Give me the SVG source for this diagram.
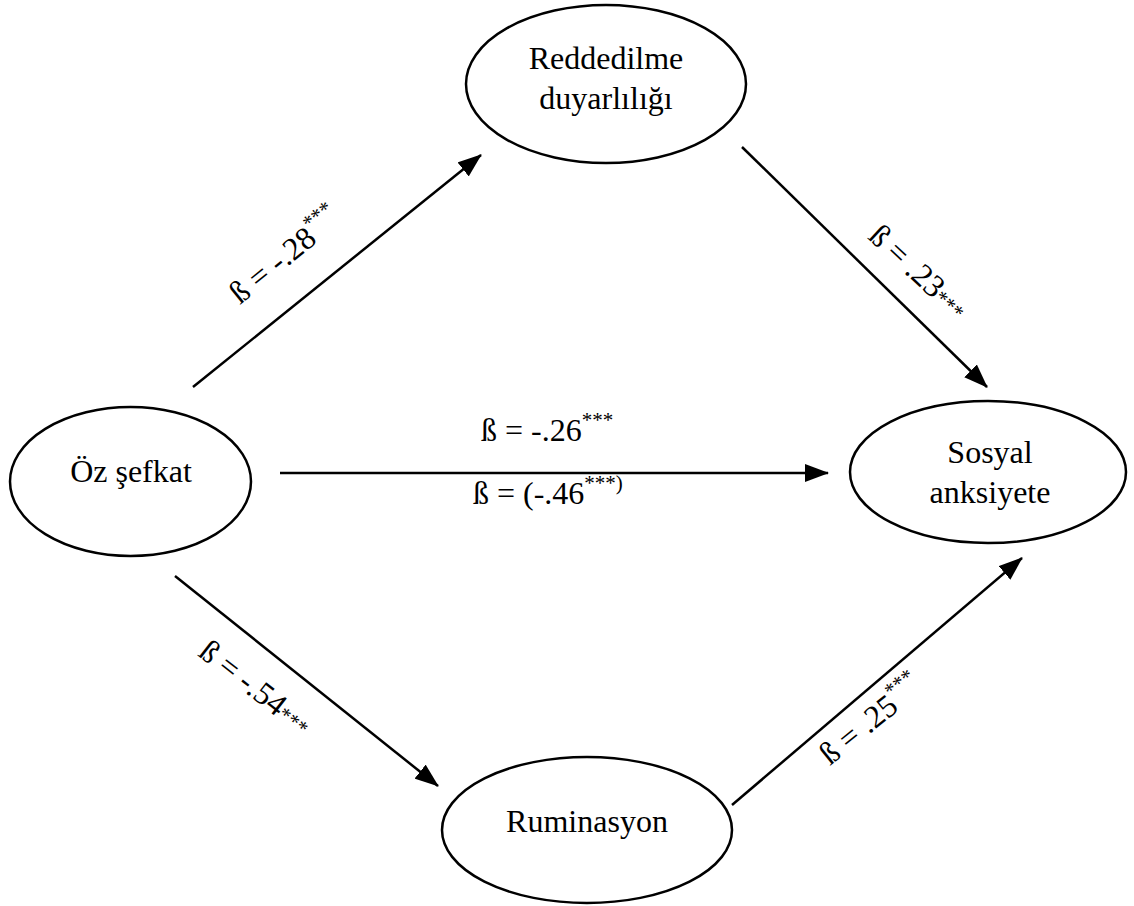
<svg xmlns="http://www.w3.org/2000/svg" width="1134" height="906" viewBox="0 0 1134 906">
  <style>
    .node { fill: #ffffff; stroke: #000000; stroke-width: 2.5; }
    .lbl { font-family: "Liberation Serif", "Times New Roman", serif; font-size: 32px; fill: #000000; }
    .edge { stroke: #000000; stroke-width: 2.5; fill: none; marker-end: url(#arrow); }
    .sup { font-size: 21px; }
  </style>
  <defs>
    <marker id="arrow" markerUnits="userSpaceOnUse" markerWidth="24" markerHeight="18" refX="23" refY="9" orient="auto">
      <path d="M0,0 L24,9 L0,18 z" fill="#000000"/>
    </marker>
  </defs>
  <rect width="1134" height="906" fill="#ffffff"/>

  <!-- nodes -->
  <g id="node-reddedilme">
    <ellipse class="node" cx="606" cy="84" rx="140" ry="79"/>
    <text class="lbl" x="606" y="69" text-anchor="middle">Reddedilme</text>
    <text class="lbl" x="606" y="109" text-anchor="middle">duyarlılığı</text>
  </g>
  <g id="node-oz-sefkat">
    <ellipse class="node" cx="130.5" cy="481.5" rx="120.5" ry="74.5"/>
    <text class="lbl" x="131" y="482" text-anchor="middle">Öz şefkat</text>
  </g>
  <g id="node-sosyal">
    <ellipse class="node" cx="988" cy="472" rx="138" ry="71"/>
    <text class="lbl" x="990" y="463" text-anchor="middle">Sosyal</text>
    <text class="lbl" x="990" y="503" text-anchor="middle">anksiyete</text>
  </g>
  <g id="node-ruminasyon">
    <ellipse class="node" cx="587" cy="830" rx="145" ry="73"/>
    <text class="lbl" x="587" y="832" text-anchor="middle">Ruminasyon</text>
  </g>

  <!-- connectors -->
  <g id="connectors">
    <line class="edge" x1="193" y1="387" x2="481" y2="155"/>
    <line class="edge" x1="742" y1="147" x2="987" y2="387"/>
    <line class="edge" x1="280" y1="473" x2="828" y2="473"/>
    <line class="edge" x1="175" y1="576" x2="438" y2="786"/>
    <line class="edge" x1="732" y1="805" x2="1022" y2="558"/>
  </g>

  <!-- path coefficients -->
  <g id="coefficients">
    <text class="lbl" x="240" y="305" transform="rotate(-39 240 305)">ß = -.28<tspan class="sup" dy="-14">***</tspan></text>
    <text class="lbl" x="867" y="238" transform="rotate(43 867 238)">ß = .23<tspan class="sup">***</tspan></text>
    <text class="lbl" x="481" y="441">ß = -.26<tspan class="sup" dy="-14">***</tspan></text>
    <text class="lbl" x="473" y="504">ß = (-.46<tspan class="sup" dy="-14">***)</tspan></text>
    <text class="lbl" x="197" y="655" transform="rotate(38 197 655)">ß = -.54<tspan class="sup">***</tspan></text>
    <text class="lbl" x="830" y="766" transform="rotate(-39 830 766)">ß = .25<tspan class="sup" dy="-14">***</tspan></text>
  </g>
</svg>
